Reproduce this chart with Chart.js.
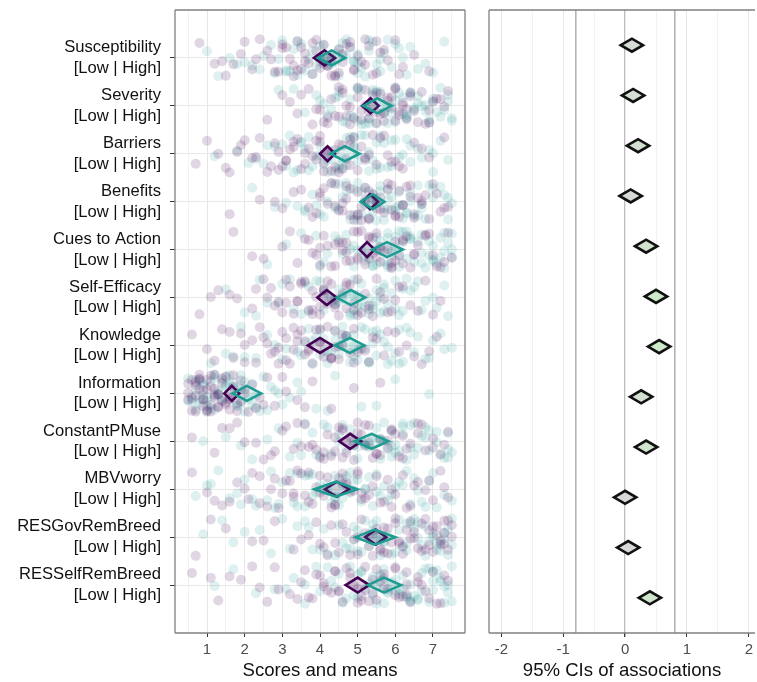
<!DOCTYPE html>
<html>
<head>
<meta charset="utf-8">
<script src="https://cdn.jsdelivr.net/npm/chart.js@4.4.1/dist/chart.umd.min.js"></script>
<style>
  html, body { margin: 0; padding: 0; background: #fff; }
  #wrap { position: relative; width: 757px; height: 682px; overflow: hidden; }
  #chartScores { position: absolute; left: 0; top: 0; }
  #chartCIs { position: absolute; left: 470px; top: 0; }
</style>
</head>
<body>
<div id="wrap">
  <canvas id="chartScores" width="470" height="682"></canvas>
  <canvas id="chartCIs" width="287" height="682"></canvas>
</div>
<script>
const determinants = ['Susceptibility', 'Severity', 'Barriers', 'Benefits', 'Cues to Action', 'Self-Efficacy',
  'Knowledge', 'Information', 'ConstantPMuse', 'MBVworry', 'RESGovRemBreed', 'RESSelfRemBreed'];
const groupLabel = '[Low | High]';

// means + 95% CI per group (left panel diamonds)
const lowMean = [4.12, 5.34, 4.20, 5.33, 5.25, 4.18, 4.00, 1.66, 4.80, 4.45, 5.48, 5.00];
const lowLo   = [3.84, 5.12, 4.00, 5.12, 5.05, 3.93, 3.68, 1.46, 4.51, 4.13, 5.20, 4.68];
const lowHi   = [4.40, 5.56, 4.40, 5.54, 5.45, 4.44, 4.33, 1.86, 5.10, 4.77, 5.76, 5.31];
const highMean = [4.31, 5.52, 4.66, 5.40, 5.78, 4.82, 4.79, 2.06, 5.37, 4.42, 5.45, 5.70];
const highLo   = [3.95, 5.15, 4.28, 5.08, 5.38, 4.44, 4.40, 1.68, 4.92, 3.85, 4.95, 5.27];
const highHi   = [4.67, 5.90, 5.05, 5.71, 6.20, 5.20, 5.18, 2.44, 5.82, 4.99, 6.00, 6.15];

// associations (right panel)
const assocR  = [0.11, 0.13, 0.21, 0.09, 0.34, 0.50, 0.55, 0.26, 0.34, 0.00, 0.05, 0.40];
const assocLo = [-0.07, -0.05, 0.03, -0.09, 0.16, 0.32, 0.37, 0.08, 0.16, -0.18, -0.13, 0.22];
const assocHi = [0.29, 0.31, 0.39, 0.27, 0.52, 0.68, 0.73, 0.44, 0.52, 0.18, 0.23, 0.58];

// raw scores, one string per determinant
const lowScores = [
  '0.8 1.2 1.5 1.9 2.2 2.4 2.7 2.9 3.1 3.3 3.4 3.6 3.8 3.9 4.0 4.1 4.3 4.4 4.5 4.6 4.8 4.9 5.0 5.2 5.3 5.5 5.6 5.8 6.0 6.2 6.5 6.9 3.0 3.7 4.7 5.4 2.6 3.2 3.5 3.9 4.2 4.5 4.8 5.1 2.0 3.4 4.0 4.4 5.7 1.7 3.0 3.3 3.6 3.8 4.1 4.3 4.6 4.9 5.2 2.3 2.8 3.5 4.2 5.5 1.4 6.1',
  '2.6 3.0 3.4 3.7 3.9 4.1 4.3 4.4 4.6 4.7 4.8 5.0 5.1 5.2 5.3 5.4 5.5 5.6 5.7 5.8 5.9 6.0 6.1 6.2 6.3 6.4 6.5 6.7 6.9 7.1 7.3 4.5 5.0 5.6 6.0 3.5 4.0 4.6 4.9 5.2 5.5 5.8 6.1 6.4 6.8 7.0 7.4 5.3 4.2 3.2 4.2 4.5 4.8 5.1 5.4 5.7 6.0 6.3 6.6 7.2 4.7 5.5 6.2 3.8 5.9 6.9',
  '0.7 1.0 1.3 1.6 1.9 2.2 2.4 2.7 2.9 3.1 3.3 3.5 3.7 3.8 4.0 4.1 4.2 4.4 4.5 4.7 4.8 5.0 5.1 5.3 5.5 5.7 5.9 6.2 6.5 6.9 7.3 3.0 3.6 4.3 4.6 5.2 2.0 2.6 3.2 3.4 3.9 4.1 4.4 4.8 5.4 5.8 1.5 2.8 6.0 4.9 2.3 2.9 3.3 3.6 3.9 4.2 4.5 4.8 5.2 5.6 6.1 1.8 3.1 4.0 4.6 6.7',
  '1.6 2.4 3.0 3.5 3.8 4.0 4.2 4.4 4.5 4.7 4.8 5.0 5.1 5.2 5.3 5.4 5.5 5.7 5.8 5.9 6.0 6.1 6.2 6.4 6.5 6.7 6.9 7.1 7.3 4.1 4.9 5.6 6.3 3.7 5.3 6.6 3.9 4.3 4.6 5.0 5.3 5.6 5.9 6.2 6.5 6.8 7.2 4.8 2.8 5.1 4.0 4.4 4.7 5.0 5.2 5.5 5.8 6.1 6.4 6.7 7.0 4.6 5.4 6.0 3.3 7.4',
  '1.7 2.5 3.0 3.4 3.7 3.9 4.1 4.3 4.5 4.6 4.8 4.9 5.0 5.2 5.3 5.4 5.5 5.6 5.8 5.9 6.0 6.1 6.3 6.4 6.6 6.8 7.0 7.2 4.2 4.7 5.1 5.7 6.2 3.6 5.5 7.4 3.8 4.4 4.7 5.0 5.3 5.6 5.9 6.2 6.5 6.9 7.3 4.0 2.2 5.4 4.0 4.4 4.7 5.0 5.3 5.6 5.9 6.2 6.5 6.8 7.1 4.6 5.5 6.0 3.2 7.5',
  '0.8 1.3 1.8 2.2 2.5 2.8 3.0 3.2 3.4 3.6 3.7 3.9 4.0 4.1 4.2 4.3 4.5 4.6 4.7 4.9 5.0 5.2 5.3 5.5 5.7 5.9 6.1 6.4 6.8 7.2 3.3 3.8 4.4 4.8 2.6 5.4 2.3 2.9 3.5 3.8 4.1 4.4 4.7 5.1 5.6 6.0 3.1 4.0 1.6 6.6 2.7 3.1 3.5 3.8 4.1 4.4 4.7 5.0 5.3 5.8 6.2 3.4 4.2 4.9 1.1 7.0',
  '0.6 1.0 1.4 1.7 2.0 2.3 2.5 2.8 3.0 3.2 3.4 3.5 3.7 3.8 4.0 4.1 4.2 4.4 4.5 4.6 4.8 4.9 5.1 5.3 5.5 5.7 6.0 6.3 6.7 7.1 3.3 3.9 4.3 2.6 5.0 1.9 1.2 2.2 2.9 3.3 3.6 4.0 4.3 4.7 5.2 5.8 2.0 3.1 4.5 6.5 2.4 2.7 3.1 3.4 3.7 4.0 4.3 4.6 4.9 5.4 6.1 1.6 2.9 3.6 4.4 6.9',
  '0.5 0.6 0.7 0.8 0.8 0.9 1.0 1.0 1.1 1.2 1.2 1.3 1.4 1.4 1.5 1.6 1.6 1.7 1.8 1.9 2.0 2.1 2.2 2.4 2.6 2.8 3.1 3.4 3.8 4.3 4.9 0.7 1.1 1.5 0.9 1.3 0.5 0.6 0.8 1.0 1.1 1.3 1.5 1.7 1.9 2.3 0.7 1.2 3.0 0.9 0.5 0.6 0.7 0.9 1.0 1.1 1.2 1.4 1.6 1.8 2.0 2.5 0.8 1.3 3.6 5.6',
  '0.6 1.2 1.8 2.3 2.7 3.0 3.3 3.6 3.8 4.0 4.2 4.4 4.6 4.7 4.9 5.0 5.2 5.3 5.5 5.6 5.8 5.9 6.1 6.2 6.4 6.6 6.8 7.0 7.2 7.4 3.5 4.5 5.4 6.0 2.0 4.1 3.4 3.9 4.3 4.6 4.9 5.2 5.5 5.8 6.2 6.6 7.0 1.4 2.5 4.8 3.1 3.7 4.1 4.4 4.7 5.0 5.3 5.6 5.9 6.3 6.7 7.3 4.6 5.1 2.8 1.6',
  '0.6 1.0 1.4 1.8 2.1 2.4 2.7 2.9 3.1 3.3 3.5 3.7 3.9 4.1 4.2 4.4 4.6 4.8 5.0 5.2 5.4 5.6 5.8 6.0 6.2 6.4 6.6 6.8 7.0 7.2 7.4 3.8 4.5 5.1 2.2 5.7 2.0 2.6 3.2 3.6 4.0 4.3 4.7 5.0 5.3 5.9 6.5 1.2 3.4 4.9 2.4 2.8 3.3 3.7 4.0 4.4 4.7 5.1 5.5 5.9 6.3 6.9 3.0 4.6 1.6 7.3',
  '0.7 1.5 2.2 2.8 3.3 3.7 4.0 4.3 4.5 4.7 4.9 5.1 5.3 5.4 5.6 5.7 5.9 6.0 6.2 6.3 6.5 6.6 6.8 6.9 7.0 7.1 7.2 7.3 7.4 7.5 5.0 5.5 6.1 6.7 4.2 7.3 3.9 4.4 4.8 5.2 5.6 6.0 6.4 6.7 7.0 7.2 7.4 2.5 5.8 6.9 4.1 4.6 5.0 5.4 5.8 6.1 6.4 6.8 7.1 7.3 7.5 5.7 6.5 3.5 1.1 6.2',
  '0.6 1.3 1.9 2.4 2.8 3.2 3.5 3.8 4.0 4.2 4.4 4.6 4.8 4.9 5.1 5.2 5.4 5.5 5.7 5.8 6.0 6.1 6.3 6.4 6.6 6.8 7.0 7.2 7.4 3.6 4.5 5.0 5.6 6.2 2.2 4.1 3.4 3.9 4.3 4.7 5.0 5.3 5.7 6.0 6.3 6.7 7.1 1.6 2.9 5.5 3.7 4.1 4.5 4.8 5.1 5.4 5.7 6.0 6.3 6.6 6.9 7.3 5.2 4.4 2.6 1.1'
];
const highScores = [
  '1.0 1.6 2.0 2.5 2.8 3.0 3.2 3.5 3.7 3.9 4.0 4.2 4.3 4.4 4.5 4.7 4.8 4.9 5.1 5.2 5.4 5.5 5.7 5.9 6.1 6.3 6.6 7.0 7.3 3.4 4.1 4.6 5.0 5.6 2.2 3.8 2.7 3.3 3.6 4.0 4.3 4.6 5.0 5.3 5.8 6.4 3.1 4.5 1.3 6.8 2.4 3.1 3.4 3.8 4.1 4.4 4.7 5.0 5.3 5.6 6.0 2.9 4.2 4.9 6.2 1.8',
  '2.9 3.6 4.0 4.2 4.5 4.7 4.9 5.0 5.1 5.3 5.4 5.5 5.6 5.8 5.9 6.0 6.1 6.2 6.3 6.4 6.5 6.6 6.8 7.0 7.2 7.4 7.5 4.4 5.2 5.7 6.3 6.9 3.3 4.8 6.7 7.3 4.1 4.6 5.0 5.3 5.6 5.9 6.2 6.5 6.8 7.1 7.4 5.5 6.0 3.9 4.3 4.8 5.1 5.4 5.7 6.0 6.3 6.6 6.9 7.2 7.5 5.0 5.8 6.4 4.5 7.0',
  '1.2 1.8 2.3 2.8 3.2 3.5 3.8 4.0 4.2 4.3 4.5 4.6 4.8 4.9 5.0 5.2 5.3 5.5 5.6 5.8 6.0 6.2 6.4 6.7 7.0 7.4 3.6 4.4 5.1 5.7 6.1 2.5 3.3 4.7 5.4 6.6 2.1 3.0 3.7 4.1 4.5 4.9 5.3 5.9 6.3 6.9 4.0 5.0 3.4 7.2 2.6 3.1 3.5 3.9 4.3 4.6 4.9 5.2 5.5 5.9 6.4 7.0 4.2 4.7 5.6 3.7',
  '2.2 3.1 3.6 3.9 4.2 4.4 4.6 4.8 5.0 5.1 5.2 5.4 5.5 5.6 5.7 5.9 6.0 6.1 6.2 6.3 6.5 6.6 6.8 7.0 7.2 7.4 7.5 4.5 5.3 5.8 6.4 4.0 4.9 6.7 5.5 2.8 3.8 4.3 4.7 5.1 5.4 5.7 6.0 6.3 6.6 6.9 7.3 5.2 3.4 5.8 4.1 4.5 4.9 5.2 5.5 5.8 6.1 6.4 6.7 7.0 7.4 4.7 5.6 6.2 3.6 5.0',
  '2.6 3.5 4.0 4.4 4.7 4.9 5.1 5.3 5.4 5.5 5.6 5.7 5.8 5.9 6.0 6.1 6.2 6.3 6.4 6.5 6.6 6.8 6.9 7.0 7.1 7.3 7.4 7.5 4.6 5.2 5.8 6.2 6.7 3.9 5.0 7.2 4.2 4.8 5.2 5.5 5.8 6.1 6.4 6.7 7.0 7.3 7.5 5.9 3.1 6.3 4.5 4.9 5.2 5.5 5.8 6.1 6.4 6.7 7.0 7.3 7.5 5.4 6.0 6.9 4.1 7.2',
  '1.5 2.3 2.9 3.3 3.7 3.9 4.1 4.3 4.5 4.6 4.8 4.9 5.0 5.1 5.3 5.4 5.5 5.6 5.8 5.9 6.1 6.3 6.5 6.8 7.1 7.4 4.0 4.4 4.7 5.2 5.7 3.5 6.0 2.0 6.6 4.9 3.0 3.6 4.2 4.6 5.0 5.3 5.7 6.2 6.7 7.3 4.4 5.0 2.6 5.5 3.2 3.7 4.1 4.5 4.8 5.1 5.4 5.7 6.0 6.4 7.0 4.3 4.9 5.6 2.4 6.2',
  '1.1 1.9 2.6 3.1 3.5 3.8 4.0 4.2 4.4 4.5 4.7 4.8 4.9 5.0 5.2 5.3 5.4 5.5 5.7 5.8 6.0 6.2 6.4 6.6 6.9 7.2 7.5 3.6 4.3 4.6 5.1 5.6 2.3 3.9 6.1 4.1 2.0 3.0 3.7 4.1 4.6 5.0 5.4 5.9 6.3 6.8 4.4 4.9 1.5 7.3 2.8 3.4 3.8 4.2 4.6 4.9 5.2 5.5 5.8 6.1 6.5 7.0 4.0 4.7 5.3 1.7',
  '0.5 0.7 0.8 0.9 1.0 1.1 1.2 1.3 1.4 1.5 1.6 1.7 1.8 1.9 2.0 2.1 2.2 2.3 2.5 2.7 2.9 3.2 3.5 3.9 4.4 5.1 6.0 6.9 0.6 1.0 1.3 1.6 1.9 2.4 1.2 0.9 0.6 0.8 1.0 1.2 1.4 1.7 1.9 2.2 2.6 3.0 1.1 1.5 4.2 0.7 0.5 0.7 0.9 1.0 1.2 1.4 1.6 1.8 2.0 2.3 2.8 0.8 1.5 1.9 3.4 5.5',
  '0.9 1.9 2.6 3.2 3.6 3.9 4.2 4.5 4.7 4.9 5.1 5.3 5.4 5.6 5.7 5.9 6.0 6.1 6.3 6.4 6.6 6.7 6.9 7.1 7.3 7.5 4.0 4.6 5.0 5.5 6.2 6.8 3.4 5.8 7.4 2.9 3.8 4.3 4.8 5.2 5.6 5.9 6.2 6.5 6.9 7.2 7.4 2.2 5.0 6.0 3.5 4.1 4.5 4.9 5.3 5.6 5.9 6.2 6.5 6.8 7.1 7.4 5.2 5.7 6.4 1.5',
  '0.7 1.1 1.6 2.0 2.3 2.6 2.9 3.2 3.4 3.6 3.8 4.0 4.2 4.4 4.5 4.7 4.9 5.1 5.3 5.5 5.7 5.9 6.1 6.3 6.5 6.7 6.9 7.1 7.3 7.5 4.3 4.8 3.0 5.2 1.8 6.0 1.9 2.7 3.3 3.7 4.1 4.4 4.8 5.2 5.6 6.2 6.8 1.3 4.6 3.9 2.2 2.8 3.4 3.8 4.2 4.6 5.0 5.4 5.8 6.4 7.0 3.6 4.4 5.5 1.0 6.6',
  '0.9 1.7 2.4 3.0 3.4 3.8 4.1 4.4 4.6 4.8 5.0 5.2 5.4 5.5 5.7 5.8 6.0 6.1 6.3 6.4 6.6 6.7 6.9 7.0 7.2 7.3 7.4 7.5 4.9 5.6 6.2 6.8 3.6 7.1 2.0 5.3 3.7 4.2 4.7 5.1 5.5 5.9 6.3 6.6 7.0 7.3 7.5 2.7 5.4 6.5 4.0 4.5 4.9 5.3 5.7 6.1 6.5 6.8 7.1 7.4 5.6 6.3 3.2 7.2 1.4 5.0',
  '1.2 2.3 3.1 3.6 4.0 4.3 4.6 4.8 5.0 5.2 5.4 5.5 5.7 5.8 6.0 6.1 6.2 6.4 6.5 6.6 6.8 6.9 7.0 7.1 7.2 7.3 7.4 7.5 5.1 5.6 6.3 6.7 4.4 5.9 7.0 3.3 3.9 4.5 5.0 5.4 5.7 6.0 6.3 6.6 6.9 7.2 7.4 2.8 5.3 6.4 4.2 4.7 5.1 5.5 5.8 6.1 6.4 6.7 7.0 7.3 7.5 5.6 6.2 4.9 3.6 1.7'
];

const scoreTicks = [0.5, 1, 1.5, 2, 2.5, 3, 3.5, 4, 4.5, 5, 5.5, 6, 6.5, 7, 7.5];
const assocTicks = [-2, -1.5, -1, -0.8, -0.5, 0, 0.5, 0.8, 1, 1.5, 2];

// vertical jitter pattern (fraction of a row), like geom_jitter
const JITTER = [-0.31, 0.12, 0.37, -0.08, 0.24, -0.39, 0.03, 0.29, -0.22, 0.16, -0.35, 0.07, 0.34, -0.14,
  0.21, -0.27, 0.0, 0.39, -0.18, 0.09, -0.33, 0.26, -0.04, 0.14, -0.25, 0.32, -0.11, 0.05, -0.37, 0.19,
  -0.06, 0.28, -0.2, 0.11, -0.29, 0.35, -0.15, 0.02, 0.23, -0.38, 0.17, 0.31, -0.23, 0.08, -0.34, 0.26,
  -0.01, 0.36, -0.17, 0.13, -0.28, 0.38, -0.09];

const PURPLE = '#440154';
const TEAL = '#1f9c92';
const FONT = "'Liberation Sans', Arial, sans-serif";
Chart.defaults.font.family = FONT;

function cloud(rows, step, shift) {
  var pts = [];
  rows.forEach(function(row, i) {
    row.trim().split(/\s+/).map(Number).forEach(function(x, j) {
      pts.push({x: x, y: i + 1 + JITTER[(j * step + i * 7 + shift) % JITTER.length]});
    });
  });
  return pts;
}

function diamond(ctx, xLo, xMid, xHi, y, half) {
  ctx.beginPath();
  ctx.moveTo(xLo, y);
  ctx.lineTo(xMid, y - half);
  ctx.lineTo(xHi, y);
  ctx.lineTo(xMid, y + half);
  ctx.closePath();
}

function hexA(hex, a) {
  var n = parseInt(hex.slice(1), 16);
  return 'rgba(' + (n >> 16) + ',' + ((n >> 8) & 255) + ',' + (n & 255) + ',' + a + ')';
}

// frame around plot area (ggplot panel border)
const framePlugin = {
  id: 'frame',
  afterDraw(chart, args, opts) {
    var a = chart.chartArea, ctx = chart.ctx;
    ctx.save();
    ctx.strokeStyle = '#808080';
    ctx.lineWidth = 1.3;
    ctx.beginPath();
    ctx.moveTo(a.left, a.top); ctx.lineTo(a.left, a.bottom);
    ctx.moveTo(a.left, a.top); ctx.lineTo(a.right, a.top);
    ctx.moveTo(a.left, a.bottom); ctx.lineTo(a.right, a.bottom);
    if (opts.right) { ctx.moveTo(a.right, a.top); ctx.lineTo(a.right, a.bottom); }
    ctx.stroke();
    ctx.restore();
  }
};

const meanDiamonds = {
  id: 'meanDiamonds',
  afterDatasetsDraw(chart) {
    var ctx = chart.ctx, xs = chart.scales.x, ys = chart.scales.y;
    ctx.save();
    ctx.lineWidth = 2.6;
    ctx.lineJoin = 'miter';
    for (var i = 0; i < determinants.length; i++) {
      var y = ys.getPixelForValue(i + 1);
      diamond(ctx, xs.getPixelForValue(lowLo[i]), xs.getPixelForValue(lowMean[i]), xs.getPixelForValue(lowHi[i]), y, 7.5);
      ctx.fillStyle = hexA(PURPLE, 0.15); ctx.fill();
      ctx.strokeStyle = PURPLE; ctx.stroke();
      diamond(ctx, xs.getPixelForValue(highLo[i]), xs.getPixelForValue(highMean[i]), xs.getPixelForValue(highHi[i]), y, 7.5);
      ctx.fillStyle = hexA(TEAL, 0.15); ctx.fill();
      ctx.strokeStyle = TEAL; ctx.stroke();
    }
    ctx.restore();
  }
};

function assocFill(r) {
  var t = Math.min(1, Math.abs(r) / 0.5);
  var g = [216, 216, 216], c = [204, 234, 200];
  return 'rgb(' + g.map(function(v, k) { return Math.round(v + (c[k] - v) * t); }).join(',') + ')';
}

const assocDiamonds = {
  id: 'assocDiamonds',
  afterDatasetsDraw(chart) {
    var ctx = chart.ctx, xs = chart.scales.x, ys = chart.scales.y;
    ctx.save();
    ctx.lineWidth = 2.6;
    ctx.lineJoin = 'miter';
    ctx.strokeStyle = '#111';
    for (var i = 0; i < assocR.length; i++) {
      var y = ys.getPixelForValue(i + 1);
      diamond(ctx, xs.getPixelForValue(assocLo[i]), xs.getPixelForValue(assocR[i]), xs.getPixelForValue(assocHi[i]), y, 6.5);
      ctx.fillStyle = assocFill(assocR[i]);
      ctx.fill();
      ctx.stroke();
    }
    ctx.restore();
  }
};

function isInt(v) { return Math.abs(v - Math.round(v)) < 1e-9; }

new Chart(document.getElementById('chartScores'), {
  type: 'scatter',
  data: {
    datasets: [
      { label: 'Low', data: cloud(lowScores, 1, 0), backgroundColor: hexA(PURPLE, 0.16), borderWidth: 0, pointRadius: 5 },
      { label: 'High', data: cloud(highScores, 3, 13), backgroundColor: hexA(TEAL, 0.15), borderWidth: 0, pointRadius: 5 }
    ]
  },
  options: {
    responsive: false,
    animation: false,
    events: [],
    layout: { padding: { left: 0, right: 2, top: 10, bottom: 0 } },
    plugins: { legend: { display: false }, tooltip: { enabled: false }, frame: { right: true } },
    scales: {
      x: {
        type: 'linear', min: 0.15, max: 7.85,
        afterBuildTicks: function(s) { s.ticks = scoreTicks.map(function(v) { return {value: v}; }); },
        afterFit: function(s) { s.height = 49; },
        ticks: {
          autoSkip: false, maxRotation: 0, padding: 4, color: '#4d4d4d', font: { size: 15 },
          callback: function(v) { return isInt(v) ? String(v) : ''; }
        },
        grid: {
          color: function(c) { return isInt(c.tick.value) ? '#e6e6e6' : '#f2f2f2'; },
          tickLength: 4,
          tickColor: function(c) { return isInt(c.tick.value) ? '#333' : 'rgba(0,0,0,0)'; }
        },
        border: { display: false },
        title: { display: true, text: 'Scores and means', color: '#111', font: { size: 18.6 }, padding: { top: 0, bottom: 0 } }
      },
      y: {
        type: 'linear', min: 0, max: 13, reverse: true,
        afterBuildTicks: function(s) { s.ticks = determinants.map(function(d, i) { return {value: i + 1}; }); },
        afterFit: function(s) { s.width = 175; s.paddingTop = 0; s.paddingBottom = 0; },
        ticks: {
          autoSkip: false, padding: 9, color: '#111', font: { size: 16.6, lineHeight: 1.25 },
          callback: function(v) { return [determinants[Math.round(v) - 1], groupLabel]; }
        },
        grid: { color: '#e8e8e8', tickLength: 5, tickColor: '#333' },
        border: { display: false }
      }
    }
  },
  plugins: [meanDiamonds, framePlugin]
});

new Chart(document.getElementById('chartCIs'), {
  type: 'scatter',
  data: { datasets: [{ data: [] }] },
  options: {
    responsive: false,
    animation: false,
    events: [],
    layout: { padding: { left: 19, right: 0, top: 10, bottom: 0 } },
    plugins: { legend: { display: false }, tooltip: { enabled: false }, frame: { right: false } },
    scales: {
      x: {
        type: 'linear', min: -2.2, max: 2.1,
        afterBuildTicks: function(s) { s.ticks = assocTicks.map(function(v) { return {value: v}; }); },
        afterFit: function(s) { s.height = 49; },
        ticks: {
          autoSkip: false, maxRotation: 0, padding: 4, color: '#4d4d4d', font: { size: 15 },
          callback: function(v) { return isInt(v) ? String(v) : ''; }
        },
        grid: {
          color: function(c) {
            var v = c.tick.value;
            if (Math.abs(Math.abs(v) - 0.8) < 1e-9) return '#b4b4b4';
            if (v === 0) return '#bdbdbd';
            return isInt(v) ? '#e6e6e6' : '#f2f2f2';
          },
          lineWidth: function(c) {
            var v = c.tick.value;
            if (Math.abs(Math.abs(v) - 0.8) < 1e-9) return 1.6;
            return v === 0 ? 1.3 : 1;
          },
          tickLength: 4,
          tickColor: function(c) { return isInt(c.tick.value) ? '#333' : 'rgba(0,0,0,0)'; }
        },
        border: { display: false },
        title: { display: true, text: '95% CIs of associations', color: '#111', font: { size: 18.6 }, padding: { top: 0, bottom: 0 } }
      },
      y: { type: 'linear', display: false, min: 0.3, max: 12.7, reverse: true }
    }
  },
  plugins: [assocDiamonds, framePlugin]
});
</script>
</body>
</html>
